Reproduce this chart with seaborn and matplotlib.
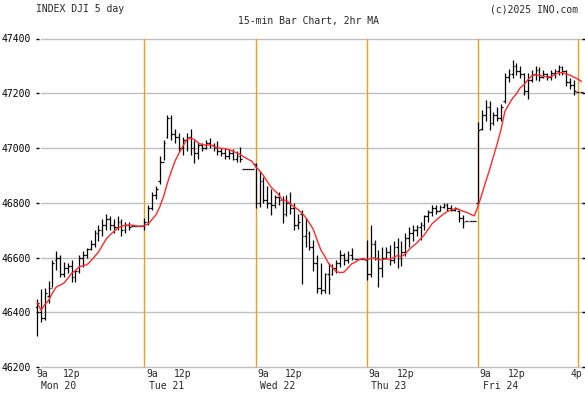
import numpy as np
import pandas as pd
import seaborn as sns
import matplotlib
matplotlib.use("Agg")
from matplotlib import pyplot as plt
from matplotlib import transforms

# 15-min OHLC bars, one list per day
days = ["Mon 20", "Tue 21", "Wed 22", "Thu 23", "Fri 24"]

mon_open = [46420, 46400, 46380, 46460, 46490, 46590, 46600, 46540, 46560, 46570, 46530, 46550, 46600,
            46610, 46630, 46650, 46690, 46700, 46720, 46740, 46720, 46710, 46730, 46700, 46720]
mon_high = [46450, 46485, 46490, 46515, 46592, 46625, 46610, 46585, 46580, 46592, 46555, 46610, 46622,
            46635, 46665, 46700, 46720, 46740, 46760, 46750, 46740, 46750, 46740, 46730, 46730]
mon_low = [46312, 46366, 46373, 46433, 46494, 46555, 46530, 46530, 46544, 46512, 46512, 46544, 46567,
           46600, 46628, 46640, 46660, 46680, 46700, 46700, 46690, 46700, 46680, 46690, 46700]
mon_close = [46435, 46380, 46470, 46490, 46580, 46600, 46540, 46560, 46570, 46530, 46550, 46600, 46610,
             46630, 46650, 46690, 46700, 46720, 46740, 46720, 46710, 46730, 46700, 46720, 46710]

tue_open = [46715, 46730, 46780, 46830, 46880, 46950, 47040, 47110, 47050, 47040, 47000, 47030, 47040,
            47000, 46980, 47010, 47000, 47020, 47010, 47000, 46990, 46980, 46970, 46980, 46960, 46970]
tue_high = [46745, 46790, 46840, 46860, 46970, 47030, 47120, 47120, 47070, 47055, 47040, 47055, 47070,
            47030, 47020, 47020, 47030, 47035, 47020, 47025, 47000, 47000, 46995, 46995, 46990, 47005]
tue_low = [46700, 46720, 46775, 46815, 46870, 46955, 47035, 47030, 47020, 46990, 46975, 46990, 46975,
           46945, 46960, 46990, 46995, 47000, 46990, 46975, 46970, 46960, 46960, 46955, 46950, 46950]
tue_close = [46730, 46780, 46830, 46850, 46950, 47020, 47110, 47050, 47040, 47000, 47030, 47040, 47000,
             46980, 47010, 47000, 47020, 47010, 47000, 46990, 46980, 46970, 46980, 46960, 46970, 46960]

wed_open = [46940, 46800, 46880, 46810, 46800, 46790, 46820, 46810, 46760, 46800, 46780, 46720, 46760,
            46680, 46690, 46640, 46580, 46490, 46480, 46540, 46540, 46560, 46580, 46610, 46590, 46610]
wed_high = [46945, 46915, 46895, 46860, 46850, 46830, 46840, 46825, 46830, 46840, 46800, 46760, 46775,
            46745, 46695, 46665, 46610, 46580, 46545, 46580, 46575, 46592, 46628, 46616, 46625, 46634]
wed_low = [46780, 46785, 46800, 46780, 46755, 46780, 46790, 46725, 46750, 46760, 46700, 46705, 46505,
           46640, 46628, 46550, 46470, 46465, 46470, 46465, 46535, 46543, 46567, 46573, 46580, 46592]
wed_close = [46800, 46880, 46810, 46800, 46790, 46820, 46810, 46760, 46800, 46780, 46720, 46730, 46680,
             46700, 46640, 46580, 46490, 46480, 46540, 46520, 46560, 46580, 46610, 46590, 46610, 46600]

thu_open = [46590, 46540, 46650, 46600, 46560, 46600, 46620, 46590, 46640, 46600, 46620, 46670, 46690,
            46700, 46710, 46720, 46750, 46765, 46780, 46770, 46785, 46790, 46780, 46775, 46770, 46745]
thu_high = [46665, 46720, 46665, 46628, 46640, 46640, 46646, 46660, 46671, 46660, 46689, 46713, 46720,
            46720, 46731, 46756, 46774, 46790, 46790, 46790, 46798, 46800, 46790, 46785, 46774, 46756]
thu_low = [46518, 46530, 46590, 46494, 46530, 46595, 46573, 46580, 46561, 46570, 46604, 46640, 46660,
           46680, 46665, 46700, 46731, 46750, 46760, 46770, 46780, 46770, 46770, 46770, 46731, 46707]
thu_close = [46540, 46650, 46600, 46560, 46600, 46620, 46590, 46640, 46600, 46620, 46670, 46690, 46700,
             46710, 46720, 46750, 46765, 46780, 46770, 46785, 46790, 46780, 46775, 46780, 46745, 46730]

fri_open = [46800, 47070, 47120, 47150, 47090, 47120, 47110, 47170, 47260, 47270, 47300, 47280, 47270,
            47210, 47250, 47270, 47285, 47260, 47270, 47260, 47275, 47280, 47295, 47280, 47240, 47230]
fri_high = [47096, 47140, 47175, 47170, 47130, 47150, 47160, 47275, 47290, 47320, 47310, 47300, 47275,
            47275, 47285, 47300, 47295, 47285, 47275, 47285, 47290, 47305, 47300, 47285, 47255, 47250]
fri_low = [46790, 47066, 47100, 47066, 47085, 47100, 47100, 47165, 47240, 47255, 47265, 47255, 47195,
           47180, 47240, 47250, 47245, 47255, 47250, 47250, 47255, 47265, 47265, 47225, 47215, 47195]
fri_close = [47066, 47120, 47150, 47090, 47120, 47110, 47150, 47260, 47270, 47300, 47280, 47270, 47210,
             47250, 47270, 47285, 47260, 47270, 47260, 47275, 47280, 47295, 47280, 47240, 47230, 47210]

# flat after-hours bars at the end of each day
after_hours = [46715, 46925, 46595, 46735, 47205]
after_count = [3, 3, 3, 3, 2]
first_slot = [1, 0, 0, 0, 0]

yticks = [46200, 46400, 46600, 46800, 47000, 47200, 47400]

ohlc = [(mon_open, mon_high, mon_low, mon_close),
        (tue_open, tue_high, tue_low, tue_close),
        (wed_open, wed_high, wed_low, wed_close),
        (thu_open, thu_high, thu_low, thu_close),
        (fri_open, fri_high, fri_low, fri_close)]

SLOTS = 29  # bar slots per day on the x axis
rows = []
for d, (o, h, l, c) in enumerate(ohlc):
    for j in range(len(o)):
        rows.append([d * SLOTS + first_slot[d] + j, o[j], h[j], l[j], c[j]])
    for k in range(after_count[d]):
        v = after_hours[d]
        rows.append([d * SLOTS + 26 + k, v, v, v, v])
df = pd.DataFrame(rows, columns=["x", "open", "high", "low", "close"]).sort_values("x")
df["ma"] = df["close"].rolling(8, min_periods=1).mean()  # 2hr MA

sns.set_style("white")
plt.rcParams["font.family"] = ["DejaVu Sans Mono"]

fig = plt.figure(figsize=(5.85, 3.94), dpi=100)
ax = fig.add_axes([36 / 585, 27 / 394, 549 / 585, 328.5 / 394])

xmin, xmax = 0.7, 143.9
ax.set_xlim(xmin, xmax)
ax.set_ylim(46200, 47400)

for v in yticks:
    ax.axhline(v, xmin=0.01, color="#C0C0C0", lw=1, zorder=0, clip_on=False)

orange = "#E8A020"
for d in range(1, 5):
    ax.axvline(d * SLOTS, color=orange, lw=1, zorder=1)
ax.axvline(4 * SLOTS + 26, color=orange, lw=1, zorder=1)

ax.vlines(df["x"], df["low"], df["high"], color="black", lw=0.9, zorder=2)
ax.hlines(df["open"], df["x"] - 0.45, df["x"], color="black", lw=0.9, zorder=2)
ax.hlines(df["close"], df["x"], df["x"] + 0.45, color="black", lw=0.9, zorder=2)

sns.lineplot(x=df["x"].values, y=df["ma"].values, color="#FF2A2A", lw=1, ax=ax, zorder=3)

for s in ax.spines.values():
    s.set_visible(False)
ax.set_xticks([])
ax.set_yticks(yticks)
ax.set_yticklabels([str(v) for v in yticks])
ax.tick_params(axis="y", direction="in", length=2.5, width=1, left=True, right=True,
               labelleft=True, labelright=False, pad=4, labelsize=7, colors="black")

trans = transforms.blended_transform_factory(ax.transData, ax.transAxes)
for d, name in enumerate(days):
    base = d * SLOTS
    ax.text(max(base + 0.4, xmin + 0.2), -0.022, "9a", transform=trans, ha="left", va="center", fontsize=7)
    ax.text(base + 10, -0.022, "12p", transform=trans, ha="center", va="center", fontsize=7)
    ax.text(max(base + 1.2, xmin + 1.2), -0.058, name, transform=trans, ha="left", va="center", fontsize=7)
ax.text(4 * SLOTS + 25.6, -0.022, "4p", transform=trans, ha="center", va="center", fontsize=7)

fig.text(36 / 585, 1 - 9.5 / 394, "INDEX DJI 5 day", ha="left", va="center", fontsize=7)
fig.text(309 / 585, 1 - 21 / 394, "15-min Bar Chart, 2hr MA", ha="center", va="center", fontsize=7)
fig.text(578 / 585, 1 - 10 / 394, "(c)2025 INO.com", ha="right", va="center", fontsize=7)

plt.savefig("out.png", dpi=100)
